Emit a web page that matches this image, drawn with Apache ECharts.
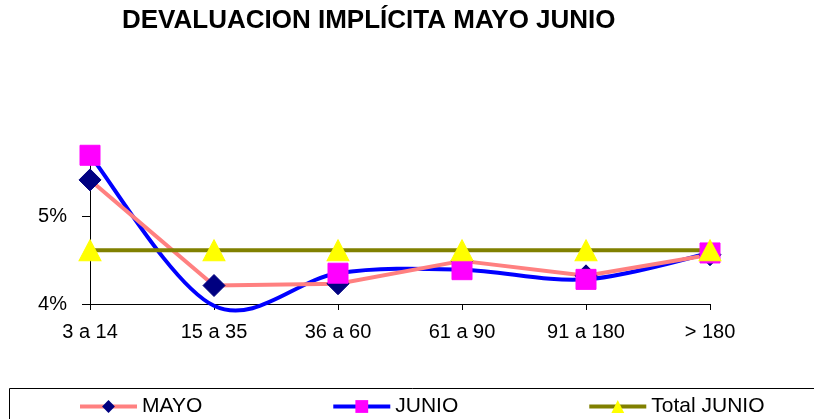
<!DOCTYPE html>
<html>
<head>
<meta charset="utf-8">
<script src="https://cdn.jsdelivr.net/npm/echarts@6/dist/echarts.min.js"></script>
<style>
html,body{margin:0;padding:0;background:#fff;}
#chart{width:814px;height:419px;}
</style>
</head>
<body>
<div id="chart"></div>
<script>
const categories = ['3 a 14', '15 a 35', '36 a 60', '61 a 90', '91 a 180', '> 180'];
const mayo = [5.41, 4.21, 4.23, 4.49, 4.32, 4.56];
const junio = [5.69, 3.98, 4.35, 4.39, 4.28, 4.58];
const totalJunio = [4.61, 4.61, 4.61, 4.61, 4.61, 4.61];
const yTicks = [4, 5];

const FONT = 'Arial, "Liberation Sans", sans-serif';
const chart = echarts.init(document.getElementById('chart'));

// markers below the axis minimum are not drawn
const junioData = junio.map(v => v < 4 ? { value: v, symbol: 'none' } : v);

// spreadsheet-style smoothed line (Catmull-Rom through points mapped by the axes)
function renderJunioCurve(params, api) {
  const pts = junio.map((v, i) => api.coord([i, v]));
  const n = pts.length;
  let d = 'M' + pts[0][0] + ' ' + pts[0][1];
  for (let i = 0; i < n - 1; i++) {
    const p0 = pts[Math.max(i - 1, 0)];
    const p1 = pts[i];
    const p2 = pts[i + 1];
    const p3 = pts[Math.min(i + 2, n - 1)];
    const c1 = [p1[0] + (p2[0] - p0[0]) / 6, p1[1] + (p2[1] - p0[1]) / 6];
    const c2 = [p2[0] - (p3[0] - p1[0]) / 6, p2[1] - (p3[1] - p1[1]) / 6];
    d += ' C' + c1[0] + ' ' + c1[1] + ' ' + c2[0] + ' ' + c2[1] + ' ' + p2[0] + ' ' + p2[1];
  }
  return {
    type: 'path',
    shape: { pathData: d },
    style: { fill: 'none', stroke: '#0000FF', lineWidth: 4 }
  };
}

chart.setOption({
  animation: false,
  backgroundColor: '#fff',
  title: {
    text: 'DEVALUACION IMPLÍCITA MAYO JUNIO',
    left: 122, top: 8, padding: 0,
    textStyle: { fontFamily: FONT, fontSize: 26, fontWeight: 'bold', color: '#000' }
  },
  graphic: [{
    type: 'rect', left: 9, top: 388, z: -1,
    shape: { width: 900, height: 60 },
    style: { fill: '#fff', stroke: '#000', lineWidth: 1 }
  }],
  legend: {
    left: 78, top: 396, itemGap: 129, itemWidth: 57, itemHeight: 16,
    padding: 0,
    textStyle: { fontFamily: FONT, fontSize: 21, color: '#000' },
    data: [
      { name: 'MAYO', lineStyle: { opacity: 1, color: '#FF8080', width: 4 } },
      { name: 'JUNIO', lineStyle: { opacity: 1, color: '#0000FF', width: 4 } },
      { name: 'Total JUNIO', lineStyle: { opacity: 1, color: '#808000', width: 4 } }
    ]
  },
  grid: { left: 90, right: 104, top: 154.4, bottom: 115, containLabel: false },
  xAxis: {
    type: 'category', data: categories, boundaryGap: false,
    axisLine: { lineStyle: { color: '#000', width: 1 } },
    axisTick: { show: true, alignWithLabel: true, length: 6, inside: false, lineStyle: { color: '#000' } },
    axisLabel: { fontFamily: FONT, fontSize: 20, color: '#000', margin: 18 },
    splitLine: { show: false }
  },
  yAxis: {
    type: 'value', min: 4, max: 5.7, interval: 1,
    axisLine: { show: true, lineStyle: { color: '#000', width: 1 } },
    axisTick: { show: true, length: 8, lineStyle: { color: '#000' } },
    axisLabel: {
      fontFamily: FONT, fontSize: 20, color: '#000', margin: 23,
      formatter: v => yTicks.includes(v) ? v + '%' : ''
    },
    splitLine: { show: false }
  },
  series: [
    {
      name: 'MAYO', type: 'line', data: mayo, clip: false,
      symbol: 'diamond', symbolSize: 22,
      lineStyle: { color: '#FF8080', width: 4 },
      itemStyle: { color: '#000080', borderColor: '#000080' }
    },
    {
      name: 'JUNIO curve', type: 'custom', data: [0], clip: false,
      renderItem: renderJunioCurve, silent: true
    },
    {
      name: 'JUNIO', type: 'line', data: junioData, clip: false,
      symbol: 'rect', symbolSize: 20,
      lineStyle: { color: '#0000FF', width: 4, opacity: 0 },
      itemStyle: { color: '#FF00FF', borderColor: '#FF00FF' }
    },
    {
      name: 'Total JUNIO', type: 'line', data: totalJunio, clip: false,
      symbol: 'triangle', symbolSize: [22, 21],
      lineStyle: { color: '#808000', width: 4 },
      itemStyle: { color: '#FFFF00', borderColor: '#FFFF00' }
    }
  ]
});
</script>
</body>
</html>
